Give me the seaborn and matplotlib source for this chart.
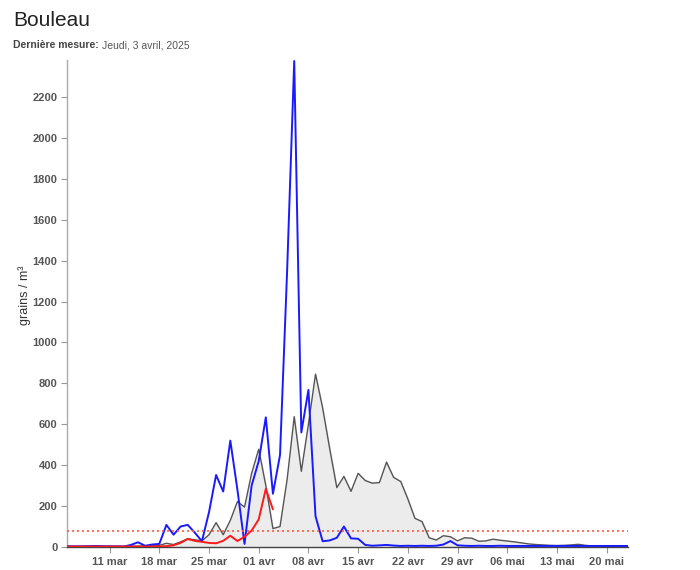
import numpy as np
import pandas as pd
import matplotlib
matplotlib.use("Agg")
import matplotlib.pyplot as plt
import seaborn as sns

# jours du 5 mars au 23 mai
dates = pd.date_range("2025-03-05", "2025-05-23", freq="D")

# moyenne (gris, rempli)
moyenne = [3, 3, 3, 3, 3, 3, 3, 3, 3, 4, 4, 5, 6, 8, 18, 12, 25, 40, 35, 30,
           60, 119, 60, 130, 222, 195, 360, 478, 300, 90, 100, 330, 637, 370, 600, 845,
           680, 480, 290, 345, 272, 360, 325, 312, 315, 415, 340, 320, 235, 140,
           124, 45, 34, 55, 50, 30, 45, 43, 28, 30, 38, 33, 29, 25, 20, 15,
           12, 10, 8, 7, 8, 10, 13, 8, 5, 4, 3, 3, 2, 2]

# annee precedente (bleu)
precedente = [3, 3, 3, 4, 5, 4, 3, 3, 2, 10, 23, 6, 12, 15, 108, 60, 100, 108, 70, 28,
              170, 352, 271, 520, 280, 15, 300, 420, 634, 260, 450, 1350, 2376, 560, 768, 150,
              28, 32, 45, 100, 42, 40, 10, 6, 8, 10, 7, 5, 6, 5,
              6, 5, 6, 12, 29, 8, 6, 5, 6, 5, 5, 6, 5, 5, 5, 5,
              5, 5, 5, 5, 5, 5, 5, 5, 5, 5, 5, 5, 5, 5]

# saison en cours (rouge), jusqu'au 3 avril
en_cours = [2, 2, 2, 2, 2, 2, 2, 2, 2, 2, 2, 2, 2, 3, 4, 8, 20, 39, 30, 25,
            20, 18, 30, 55, 29, 50, 80, 135, 284, 184]

seuil = 80

tick_dates = pd.date_range("2025-03-11", "2025-05-20", freq="7D")
tick_labels = ["11 mar", "18 mar", "25 mar", "01 avr", "08 avr", "15 avr",
               "22 avr", "29 avr", "06 mai", "13 mai", "20 mai"]
y_ticks = list(range(0, 2201, 200))

sns.set_theme(style="white")
plt.rcParams["font.family"] = ["Liberation Sans", "DejaVu Sans"]

df = pd.DataFrame({"date": dates, "moyenne": moyenne, "precedente": precedente})
df_cours = pd.DataFrame({"date": dates[:len(en_cours)], "valeur": en_cours})

fig = plt.figure(figsize=(7, 5.7), dpi=100)
ax = fig.add_axes([0.0957, 0.0404, 0.8014, 0.8543])

ax.fill_between(df["date"], df["moyenne"], color="#ececec", zorder=1)
sns.lineplot(data=df, x="date", y="moyenne", ax=ax, color="#555555", lw=1, zorder=2)
sns.lineplot(data=df, x="date", y="precedente", ax=ax, color="#1a1aff", lw=1.4, zorder=3)
sns.lineplot(data=df_cours, x="date", y="valeur", ax=ax, color="#ff1a1a", lw=1.4, zorder=4)
ax.axhline(seuil, color="#ff5a40", lw=1.2, ls=(0, (1.2, 1.8)), zorder=5)

ax.set_xlim(dates[0], dates[-1])
ax.set_ylim(0, 2381)
ax.set_xticks(tick_dates)
ax.set_xticklabels(tick_labels)
ax.set_yticks(y_ticks)
ax.set_yticklabels([str(v) for v in y_ticks])
ax.tick_params(axis="both", length=4, width=0.8, color="#999999", labelsize=8,
               labelcolor="#555555", pad=3, bottom=True, left=True)
for lab in ax.get_xticklabels() + ax.get_yticklabels():
    lab.set_fontweight("bold")
ax.set_xlabel("")
ax.set_ylabel("grains / m³", fontsize=9, color="#333333")
ax.yaxis.set_label_coords(-0.064, 0.517)

for s in ["top", "right"]:
    ax.spines[s].set_visible(False)
ax.spines["left"].set_color("#aaaaaa")
ax.spines["bottom"].set_color("#444444")
ax.spines["left"].set_linewidth(1)
ax.spines["bottom"].set_linewidth(1)

fig.text(13 / 700, 1 - 20 / 570, "Bouleau", fontsize=15, color="#222222", va="center")
t = fig.text(13 / 700, 1 - 45 / 570, "Dernière mesure:", fontsize=7.5, color="#444444",
             fontweight="bold", va="center")
fig.canvas.draw()
bb = t.get_window_extent()
fig.text(bb.x1 / 700 + 0.004, 1 - 45 / 570, "Jeudi, 3 avril, 2025", fontsize=7.5,
         color="#555555", va="center")

fig.savefig("out.png", dpi=100)
